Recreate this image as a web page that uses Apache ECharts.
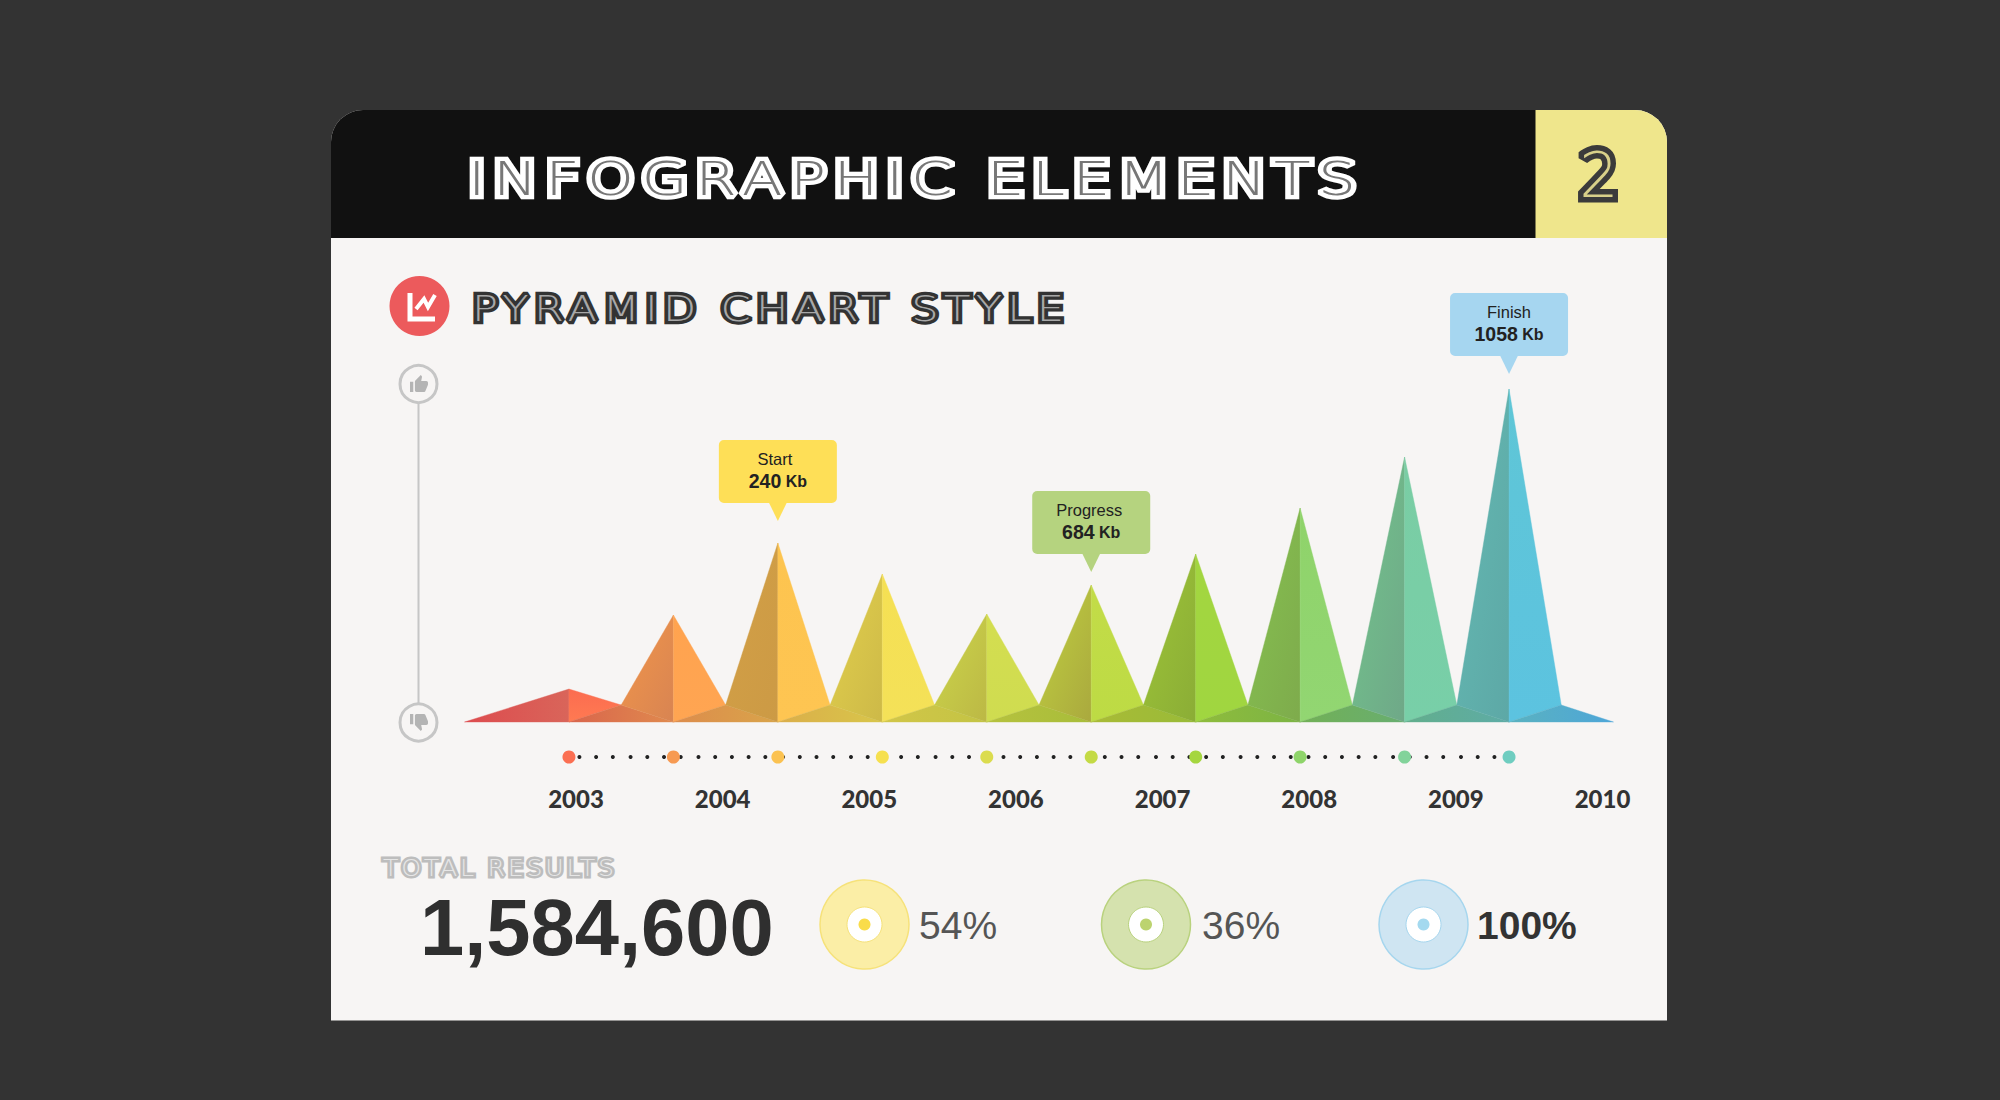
<!DOCTYPE html>
<html><head><meta charset="utf-8">
<style>html,body{margin:0;padding:0;background:#333}#c{width:2000px;height:1100px}</style>
<script src="https://cdn.jsdelivr.net/npm/echarts@6/dist/echarts.min.js"></script>
</head><body><div id="c"></div>
<script>
// ---------- data ----------
const yearLabels = ['2003','2004','2005','2006','2007','2008','2009','2010'];
const peakIndex = [0,1,2,3,4,5,6,7,8,9];
const peakHeights = [33,107,179,148,108,137,168,214,265,333];
const valleyHeight = 17;
const calloutPeaks = [2,5,9];
const calloutNames = ['Start','Progress','Finish'];
const calloutValues = ['240','684','1058'];
const tickDots = [0.10,0.26,0.42,0.59,0.75,0.91,1.07,1.24,1.40,1.56,1.72,1.88,2.05,2.21,2.37,2.53,2.70,2.86,3.02,3.18,3.34,3.51,3.67,3.83,3.99,4.16,4.32,4.48,4.64,4.80,4.97,5.13,5.29,5.45,5.62,5.78,5.94,6.10,6.26,6.43,6.59,6.75,6.91,7.08,7.24,7.40,7.56,7.72,7.89,8.05,8.21,8.37,8.54,8.70,8.86];
const ringLabels = ['54%','36%','100%'];
const totalValue = '1,584,600';

// ---------- styles ----------
const leftTop = ['#dd4b4e','#f2964a','#d3a046','#e2d04c','#ccd64a','#c0d040','#9dc438','#86c150','#72c48c','#64b9b2'];
const leftBot = ['#d9655a','#d88452','#cc9a45','#cdb948','#bcb845','#aaa93e','#8bad36','#7eab4c','#6fa888','#5da8a6'];
const rightTop = ['#fb6c50','#ffa34f','#fdc44f','#f5e053','#d4de50','#c3dc48','#a3d640','#8fd36a','#7acda4','#5fc6d6'];
const rightBot = ['#ff7a52','#ffa552','#fec552','#f4e158','#cfdc50','#bddb44','#a0d640','#92d672','#78cfa8','#5cc3e0'];
const floorL = ['#d9654c','#dd8c4c','#dbae4a','#d2c648','#b6c23e','#a9bb36','#8fbc3c','#72b056','#62ae8c','#5ab2c0'];
const floorR = ['#e08a4e','#d9a44a','#d8c64a','#c3c444','#a8bd3a','#99bb38','#7cb444','#68ae70','#5eaca6','#4ea6d8'];
const dotColors = ['#fb6f52','#f79a52','#fbc251','#f6e04f','#dbdc4e','#c4da45','#a5d63f','#8fd46a','#82d39a','#6fcdc0'];
const calloutFill = ['#fedf57','#b5d37f','#a6d6f0'];
const calloutGap = [22,13,15];
const nameShift = [-3,-2,0];
const ringStyle = [
  {x:864.5,fill:'#fbeea6',edge:'#f6e27a',dot:'#f9dc4a'},
  {x:1146,fill:'#d5e2ae',edge:'#b9d27e',dot:'#bcd36f'},
  {x:1423.5,fill:'#cfe5f2',edge:'#a6d6ee',dot:'#a4d9ef'}
];
const thinFont = 'DejaVu Sans';
const gradient = (x0,y0,x1,y1,a,b)=>new echarts.graphic.LinearGradient(x0,y0,x1,y1,[{offset:0,color:a},{offset:1,color:b}]);

// spaced inline lettering: wide stroke layer plus a hairline layer on top
const spaced = {};
function inlineText(str,x,y,size,len,sw,color,line,align,sx){
  sx=sx||1;
  if(len) spaced[str]=len/sx;
  const base={text:str,x:0,y:0,fontFamily:thinFont,fontWeight:200,fontSize:size,textAlign:align||'left',textVerticalAlign:'middle'};
  return [
    {type:'text',z:3,silent:true,x,y,scaleX:sx,style:Object.assign({},base,{fill:color,stroke:color,lineWidth:sw})},
    {type:'text',z:4,silent:true,x,y,scaleX:sx,style:Object.assign({},base,{fill:line})}
  ];
}

const THUMB_UP='M1 21h4V9H1v12zm22-11c0-1.1-.9-2-2-2h-6.31l.95-4.57.03-.32c0-.41-.17-.79-.44-1.06L14.17 1 7.59 7.59C7.22 7.95 7 8.45 7 9v10c0 1.1.9 2 2 2h9c.83 0 1.54-.5 1.84-1.22l3.02-7.05c.09-.23.14-.47.14-.73v-2z';
const THUMB_DOWN='M15 3H6c-.83 0-1.54.5-1.84 1.22l-3.02 7.05c-.09.23-.14.47-.14.73v2c0 1.1.9 2 2 2h6.31l-.95 4.57-.03.32c0 .41.17.79.44 1.06L9.83 23l6.59-6.59c.36-.36.58-.86.58-1.41V5c0-1.1-.9-2-2-2zm4 0v12h4V3h-4z';

const elements=[
  {type:'rect',z:0,shape:{x:331,y:110,width:1336,height:910.5,r:[32,32,0,0]},style:{fill:'#f7f5f4'}},
  {type:'rect',z:1,shape:{x:331,y:110,width:1205,height:128,r:[32,0,0,0]},style:{fill:'#111111'}},
  {type:'rect',z:1,shape:{x:1535.5,y:110,width:131.5,height:128,r:[0,32,0,0]},style:{fill:'#efe68c'}},
  ...inlineText('INFOGRAPHIC ELEMENTS',468,179,46,888,8.5,'#ffffff','#777777','left',1.3),
  ...inlineText('2',1599,175,62,0,11,'#3b3b3b','#d8d08a','center'),
  {type:'circle',z:2,shape:{cx:419.5,cy:306,r:30},style:{fill:'#ec5a5c'}},
  {type:'polyline',z:3,shape:{points:[[410,293],[410,319],[435,319]]},style:{stroke:'#fff',lineWidth:5,fill:null}},
  {type:'polyline',z:3,shape:{points:[[416,309],[424,299],[428,307],[435,295]]},style:{stroke:'#fff',lineWidth:4,fill:null}},
  ...inlineText('PYRAMID CHART STYLE',472,308.5,36,592,6.5,'#333333','#a8a8a8','left',1.2),
  {type:'line',z:2,shape:{x1:418.5,y1:400,x2:418.5,y2:705},style:{stroke:'#c6c6c6',lineWidth:2}},
  {type:'circle',z:2,shape:{cx:418.5,cy:384,r:18.5},style:{fill:'#f7f5f4',stroke:'#c6c6c6',lineWidth:3}},
  {type:'circle',z:2,shape:{cx:418.5,cy:722.5,r:18.5},style:{fill:'#f7f5f4',stroke:'#c6c6c6',lineWidth:3}},
  ...inlineText('TOTAL RESULTS',383,868,23,231,5,'#bdbdbd','#e6e6e6','left',1.1),
  {type:'text',z:3,style:{text:totalValue,x:420,y:927,fontFamily:'Liberation Sans',fontWeight:'bold',fontSize:79.5,fill:'#2f2f2f',textVerticalAlign:'middle',textAlign:'left'}}
];
ringStyle.forEach((r,i)=>{
  elements.push(
    {type:'circle',z:2,shape:{cx:r.x,cy:924.5,r:44.5},style:{fill:r.fill,stroke:r.edge,lineWidth:1.5}},
    {type:'circle',z:2,shape:{cx:r.x,cy:924.5,r:17.5},style:{fill:'#ffffff',stroke:r.edge,lineWidth:1}},
    {type:'circle',z:2,shape:{cx:r.x,cy:924.5,r:6},style:{fill:r.dot}},
    {type:'text',z:3,style:{text:ringLabels[i],x:[919,1202,1477][i],y:925,fontFamily:'Liberation Sans',fontWeight:i===2?'bold':'normal',fontSize:39,fill:i===2?'#333333':'#555555',textVerticalAlign:'middle',textAlign:'left'}}
  );
});

function renderPeak(params,api){
  const i=api.value(0), h=api.value(1);
  const P=(x,y)=>api.coord([x,y]);
  const top=P(i,h), foot=P(i,0);
  const vl=i===0?P(-1,0):P(i-0.5,valleyHeight);
  const vr=P(i+0.5,valleyHeight);
  const end=P(i+1,0);
  const poly=(points,fill)=>({type:'polygon',shape:{points},style:{fill,stroke:fill,lineWidth:0.4}});
  return {type:'group',children:[
    poly([top,vl,foot],i===0?gradient(0,0,1,0,leftTop[i],leftBot[i]):gradient(0,0,1,1,leftTop[i],leftBot[i])),
    poly([top,vr,foot],gradient(0,0,0,1,rightTop[i],rightBot[i])),
    poly([foot,vr,end],gradient(0,0,1,0,floorL[i],floorR[i]))
  ]};
}
function renderCallout(params,api){
  const n=params.dataIndex;
  const tip=api.coord([api.value(0),api.value(1)]);
  const x=tip[0], yTip=tip[1]-calloutGap[n], b=yTip-18, t=b-63;
  return {type:'group',children:[
    {type:'rect',shape:{x:x-59,y:t,width:118,height:63,r:5},style:{fill:calloutFill[n]}},
    {type:'polygon',shape:{points:[[x-9,b-0.5],[x+9,b-0.5],[x,yTip]]},style:{fill:calloutFill[n]}},
    {type:'text',style:{text:calloutNames[n],x:x+nameShift[n],y:t+19,textAlign:'center',textVerticalAlign:'middle',fontFamily:'Liberation Sans',fontSize:16.5,fill:'#222'}},
    {type:'text',style:{text:'{v|'+calloutValues[n]+'}{g| }{u|Kb}',x:x,y:t+41,textAlign:'center',textVerticalAlign:'middle',
      rich:{v:{fontFamily:'Liberation Sans',fontWeight:'bold',fontSize:19.5,fill:'#222'},g:{fontFamily:'Liberation Sans',fontSize:16},u:{fontFamily:'Liberation Sans',fontWeight:'bold',fontSize:16,fill:'#222'}}}}
  ]};
}
function renderThumb(params,api){
  return {type:'group',children:[
    {type:'path',shape:{pathData:THUMB_UP,layout:'cover',x:410,y:375,width:18,height:17},style:{fill:'#b4b4b4'}},
    {type:'path',shape:{pathData:THUMB_DOWN,layout:'cover',x:-18,y:0,width:18,height:17},x:410,y:714,scaleX:-1,style:{fill:'#b4b4b4'}}
  ]};
}

const chart=echarts.init(document.getElementById('c'),null,{renderer:'svg',width:2000,height:1100});
chart.setOption({
  animation:false,
  backgroundColor:'#333333',
  graphic:{elements},
  grid:[
    {left:464.5,width:1149,top:372,height:400},
    {left:576,width:1026.5,top:780,height:2}
  ],
  xAxis:[
    {gridIndex:0,type:'value',min:-1,max:10,show:false},
    {gridIndex:1,type:'category',data:yearLabels,boundaryGap:false,axisLine:{show:false},axisTick:{show:false},splitLine:{show:false},
     axisLabel:{interval:0,margin:4,fontFamily:'Lato',fontWeight:900,fontSize:24,color:'#333333'}}
  ],
  yAxis:[
    {gridIndex:0,type:'value',min:-50,max:350,show:false},
    {gridIndex:1,type:'value',show:false}
  ],
  series:[
    {type:'custom',xAxisIndex:0,yAxisIndex:0,z:2,silent:true,clip:false,renderItem:renderPeak,
     data:peakIndex.map((x,i)=>[x,peakHeights[i]])},
    {type:'scatter',xAxisIndex:0,yAxisIndex:0,z:3,silent:true,symbolSize:4,itemStyle:{color:'#222222',opacity:1},
     data:tickDots.map(x=>[x,-35])},
    {type:'scatter',xAxisIndex:0,yAxisIndex:0,z:4,silent:true,symbolSize:13,itemStyle:{opacity:1},
     data:peakIndex.map((x,i)=>({value:[x,-35],itemStyle:{color:dotColors[i]}}))},
    {type:'custom',xAxisIndex:0,yAxisIndex:0,z:5,silent:true,clip:false,renderItem:renderCallout,
     data:calloutPeaks.map(p=>[p,peakHeights[p]])},
    {type:'custom',coordinateSystem:'none',z:5,silent:true,renderItem:renderThumb,data:[0]}
  ]
});
function applySpacing(){
  document.querySelectorAll('#c svg text').forEach(t=>{
    const len=spaced[t.textContent];
    if(len){t.setAttribute('textLength',len);t.setAttribute('lengthAdjust','spacing');}
    if(t.getAttribute('stroke')&&t.getAttribute('stroke')!=='none'){t.setAttribute('stroke-linejoin','miter');t.setAttribute('stroke-miterlimit','1.5');}
  });
}
applySpacing();
chart.on('finished',applySpacing);
setTimeout(applySpacing,50);
</script></body></html>
